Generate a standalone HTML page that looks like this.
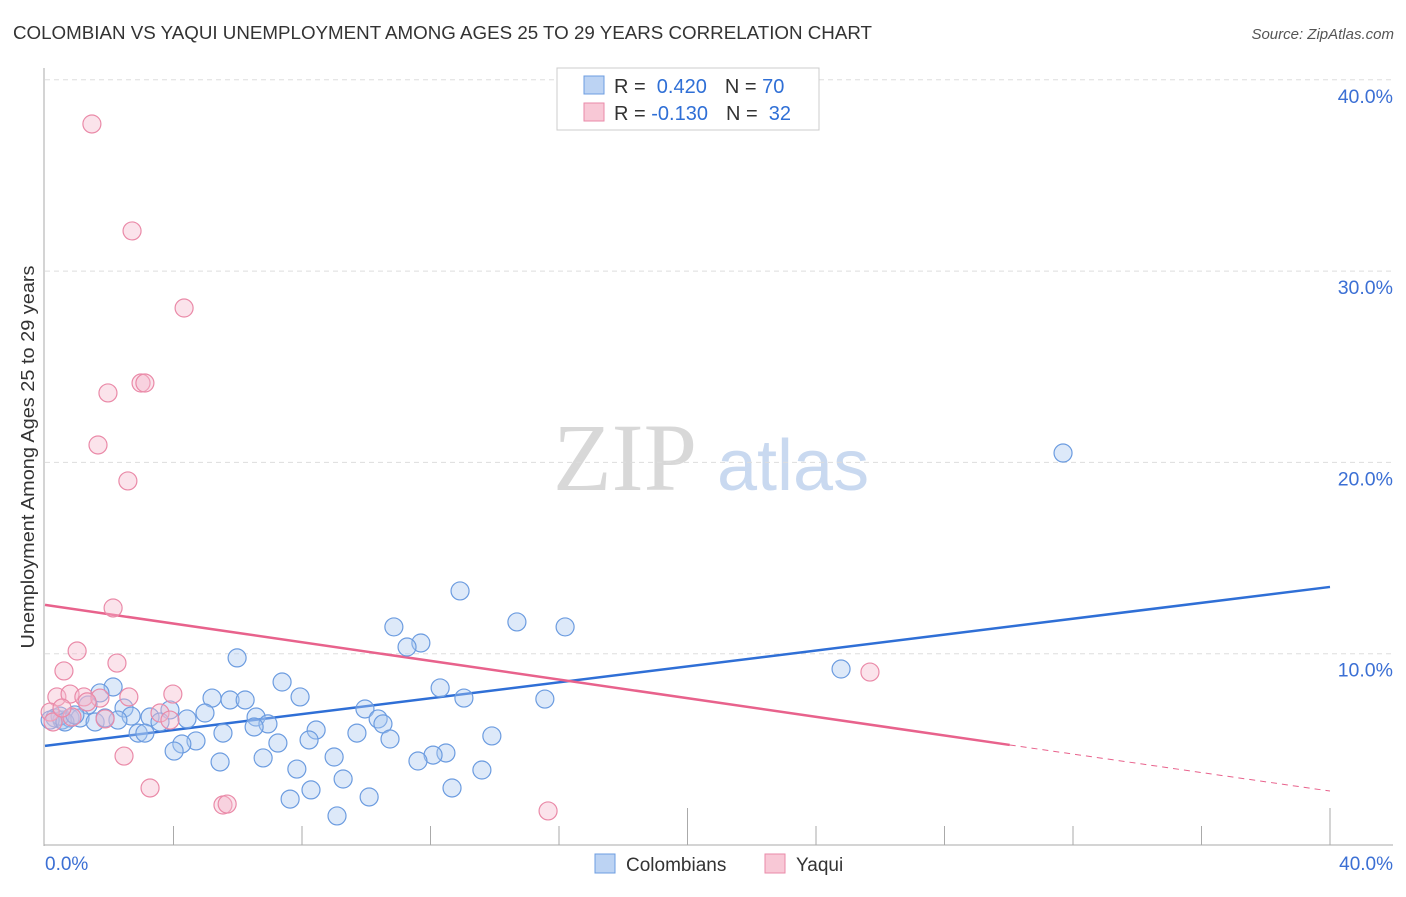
<!DOCTYPE html>
<html><head><meta charset="utf-8"><style>
body{margin:0;background:#fff;font-family:"Liberation Sans",sans-serif;}
</style></head><body>
<svg id="chart" width="1406" height="892" xmlns="http://www.w3.org/2000/svg" font-family="Liberation Sans, sans-serif">
<text x="13" y="39" font-size="18" fill="#333" textLength="859" lengthAdjust="spacingAndGlyphs">COLOMBIAN VS YAQUI UNEMPLOYMENT AMONG AGES 25 TO 29 YEARS CORRELATION CHART</text>
<text x="1394" y="39" font-size="15" fill="#555" font-style="italic" text-anchor="end">Source: ZipAtlas.com</text>
<text x="553" y="490" font-size="96" font-family="Liberation Serif, serif" fill="#d8d8d8">ZIP</text>
<text x="717" y="490" font-size="72" fill="#c9d9f0">atlas</text>
<text transform="translate(34,457) rotate(-90)" font-size="18" fill="#333" text-anchor="middle" textLength="383" lengthAdjust="spacingAndGlyphs">Unemployment Among Ages 25 to 29 years</text>
<g id="grid"></g><g id="axes"></g><g id="lines"></g><g id="pts"></g>
<g>
<rect x="557" y="68" width="262" height="62" fill="#fff" stroke="#ccc"/>
<rect x="584" y="76" width="20" height="18" fill="#bcd3f3" stroke="#6c9ce0"/>
<rect x="584" y="103" width="20" height="18" fill="#f8c8d6" stroke="#ea8aa8"/>
<text x="614" y="93" font-size="20" fill="#333">R = <tspan fill="#2f6fd6">&#160;0.420</tspan><tspan dx="18">N = </tspan><tspan fill="#2f6fd6">70</tspan></text>
<text x="614" y="120" font-size="20" fill="#333">R = <tspan fill="#2f6fd6">-0.130</tspan><tspan dx="18">N = </tspan><tspan fill="#2f6fd6">&#160;32</tspan></text>
</g>
<g>
<rect x="595" y="854" width="20" height="19" fill="#bcd3f3" stroke="#6c9ce0"/>
<text x="626" y="871" font-size="19" fill="#333">Colombians</text>
<rect x="765" y="854" width="20" height="19" fill="#f8c8d6" stroke="#ea8aa8"/>
<text x="796" y="871" font-size="19" fill="#333">Yaqui</text>
</g>
<text x="45" y="870" font-size="19" fill="#3b6fd4">0.0%</text>
<text x="1393" y="870" font-size="19" fill="#3b6fd4" text-anchor="end">40.0%</text>
</svg>
<script>
const blueX=[31.69,12.92,14.69,16.19,10.86,11.70,11.27,24.78,5.98,7.38,2.12,1.71,12.30,7.94,5.20,5.76,6.23,13.04,15.56,9.96,2.46,4.98,1.34,2.68,3.27,3.89,6.57,10.37,4.42,3.58,2.27,8.44,10.52,5.54,6.94,9.71,6.51,2.90,3.11,4.70,4.26,10.74,7.25,8.22,13.91,4.02,6.79,9.00,12.48,12.08,11.61,5.45,7.84,13.60,9.28,12.67,8.28,7.63,10.09,9.09,0.31,0.53,0.78,0.47,0.16,1.09,0.62,0.93,1.56,1.87];
const blueY=[20.49,13.28,11.66,11.40,11.40,10.56,10.35,9.20,9.78,8.52,8.26,7.95,8.21,7.74,7.68,7.58,7.58,7.68,7.63,7.11,7.16,6.90,7.32,6.74,6.69,7.06,6.69,6.59,6.59,6.43,6.53,6.01,6.33,5.85,6.33,5.85,6.17,5.85,5.85,5.44,5.28,5.54,5.33,5.49,5.70,4.91,4.55,4.60,4.81,4.70,4.39,4.34,3.97,3.92,3.45,2.98,2.88,2.40,2.51,1.52,6.64,6.53,6.64,6.74,6.53,6.64,6.43,6.80,6.43,6.64];
const pinkX=[1.46,2.71,4.33,1.96,2.99,3.11,1.65,2.58,2.12,1.00,0.59,2.24,3.98,0.37,0.78,1.21,1.71,2.61,3.58,3.89,1.87,1.31,0.16,0.25,2.46,3.27,5.54,5.67,15.66,25.68,0.84,0.53];
const pinkY=[37.69,32.10,28.07,23.63,24.15,24.15,20.91,19.03,12.39,10.14,9.10,9.51,7.89,7.74,7.89,7.74,7.68,7.74,6.90,6.53,6.59,7.48,6.95,6.43,4.65,2.98,2.09,2.14,1.78,9.04,6.69,7.16];
const yTicks=[10,20,30,40];
const yTickLabels=["10.0%","20.0%","30.0%","40.0%"];
const xTicks=[4,8,12,16,20,24,28,32,36,40];
const blueTrend=[[0,5.18],[40,13.49]];
const pinkTrendSolid=[[0,12.55],[30.03,5.23]];
const pinkTrendDash=[[30.03,5.23],[40,2.82]];

const NS="http://www.w3.org/2000/svg";
const X=v=>45+v/40*1285;
const Y=v=>845-v/10*191.3;
function mk(tag,attrs,parent){const e=document.createElementNS(NS,tag);for(const k in attrs)e.setAttribute(k,attrs[k]);document.getElementById(parent).appendChild(e);return e;}
yTicks.forEach((t,i)=>{
  const g=mk('line',{x1:45,x2:1393,y1:Y(t),y2:Y(t),stroke:'#ddd','stroke-dasharray':'5,4'},'grid');
  
  
  const l=mk('text',{x:1393,y:Y(t)+23,'font-size':19.5,fill:'#3b6fd4','text-anchor':'end'},'grid');
  l.textContent=yTickLabels[i];
  
  
});
const ax=mk('line',{x1:44,x2:44,y1:68,y2:846,stroke:'#aaa'},'axes');


const bx=mk('line',{x1:44,x2:1393,y1:845,y2:845,stroke:'#aaa'},'axes');


xTicks.forEach(t=>{
  const long=(t===20||t===40);
  const k=mk('line',{x1:X(t),x2:X(t),y1:845,y2:long?808:826,stroke:'#aaa'},'axes');
  
  
});
function line(seg,color,dash,name){
  const a={x1:X(seg[0][0]),y1:Y(seg[0][1]),x2:X(seg[1][0]),y2:Y(seg[1][1]),stroke:color,'stroke-width':dash?1:2.5};
  if(dash)a['stroke-dasharray']='6,5';
  const l=mk('line',a,'lines');
  
  
}
blueX.forEach((v,i)=>{
  const c=mk('circle',{cx:X(v),cy:Y(blueY[i]),r:9,fill:'rgba(170,200,240,0.4)',stroke:'#6c9ce0','stroke-width':1.2},'pts');
  
  
});
pinkX.forEach((v,i)=>{
  const c=mk('circle',{cx:X(v),cy:Y(pinkY[i]),r:9,fill:'rgba(245,185,205,0.4)',stroke:'#ea8aa8','stroke-width':1.2},'pts');
  
  
});
line(blueTrend,'#2f6fd6',false,'colombians-trend-line');
line(pinkTrendSolid,'#e8628c',false,'yaqui-trend-line');
line(pinkTrendDash,'#e8628c',true,'yaqui-trend-extension');
</script>
</body></html>
